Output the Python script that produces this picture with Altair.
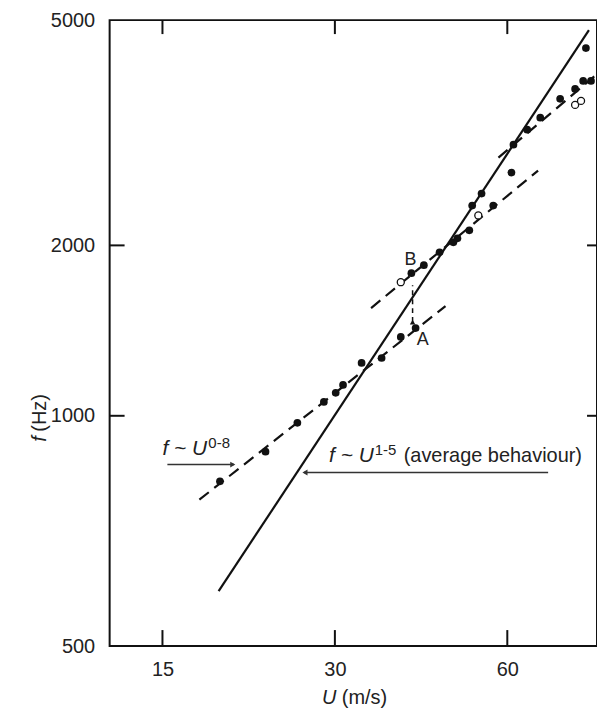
import altair as alt
import pandas as pd

FONT = "Liberation Sans"
INK = "#111111"

U_FILLED = [18.9, 22.7, 25.8, 28.7, 30.1, 31.0, 33.4, 36.2, 39.1, 41.5,
            40.8, 42.9, 45.7, 48.3, 49.1, 51.5, 52.1, 54.1, 56.7, 61.0,
            61.5, 65.0, 68.5, 74.2, 78.8, 81.4, 84.0, 82.3]
F_FILLED = [766, 864, 972, 1058, 1098, 1134, 1240, 1265, 1378, 1429,
            1786, 1845, 1945, 2025, 2058, 2126, 2352, 2469, 2352, 2689,
            3012, 3202, 3362, 3630, 3780, 3904, 3904, 4463]
U_OPEN = [39.1, 53.4, 78.8, 80.7]
F_OPEN = [1722, 2259, 3542, 3600]

# fitted lines (end points)
SOLID_U = [18.8, 83.3]
SOLID_F = [490, 4800]
DASH_NAMES = ["low", "low", "mid", "mid", "up", "up"]
DASH_U = [17.4, 46.8, 34.7, 67.9, 57.9, 85.3]
DASH_F = [711, 1562, 1550, 2711, 2858, 3984]

# A -> B jump
AB_U = [41.0, 41.0]
AB_F = [1464, 1701]

# annotation arrows
ARROW_NAMES = ["a1", "a1", "a2", "a2"]
ARROW_U = [15.3, 20.0, 70.7, 26.5]
ARROW_F = [820, 820, 794, 794]
HEAD_U = [19.9, 26.6]
HEAD_F = [820, 794]
HEAD_SHAPE = ["triangle-right", "triangle-left"]

# annotation texts
ITAL_TEXT = ["f ~ U", "f ~ U"]
ITAL_U = [15.0, 29.3]
ITAL_F = [854, 827]
SUP_TEXT = ["0-8", "1-5"]
SUP_U = [18.04, 35.2]
SUP_F = [878, 854]
NORM_TEXT = ["(average behaviour)"]
NORM_U = [39.56]
NORM_F = [827]
LET_TEXT = ["B", "A"]
LET_U = [39.7, 41.7]
LET_F = [1845, 1334]

X_TICKS = [15, 30, 60]
Y_TICKS = [392, 1000, 2000, 5000]
X_DOMAIN = [12.13, 86.05]
Y_DOMAIN = [392, 5000]

W, H = 489, 628

xs = alt.Scale(type="log", domain=X_DOMAIN, nice=False)
ys = alt.Scale(type="log", domain=Y_DOMAIN, nice=False)

x_axis = alt.Axis(values=X_TICKS, title=None, grid=False, domain=False, ticks=False,
                  labelFontSize=20, labelFont=FONT, labelColor="#222", labelPadding=14,
                  labelFlush=False, labelOverlap=False, labelExpr="format(datum.value,'d')")
y_axis = alt.Axis(values=Y_TICKS, title=None, grid=False, domain=False, ticks=False,
                  labelFontSize=20, labelFont=FONT, labelColor="#222", labelPadding=15,
                  labelFlush=False, labelOverlap=False,
                  labelExpr="datum.value < 450 ? '500' : format(datum.value,'d')")


def X():
    return alt.X("U:Q", scale=xs, axis=x_axis)


def Y():
    return alt.Y("f:Q", scale=ys, axis=y_axis)


filled = pd.DataFrame({"U": U_FILLED, "f": F_FILLED})
opened = pd.DataFrame({"U": U_OPEN, "f": F_OPEN})
solid = pd.DataFrame({"U": SOLID_U, "f": SOLID_F})
dashed = pd.DataFrame({"U": DASH_U, "f": DASH_F, "name": DASH_NAMES})
ab = pd.DataFrame({"U": AB_U, "f": AB_F})
arrows = pd.DataFrame({"U": ARROW_U, "f": ARROW_F, "name": ARROW_NAMES})
heads = pd.DataFrame({"U": HEAD_U, "f": HEAD_F, "shape": HEAD_SHAPE})
ital = pd.DataFrame({"U": ITAL_U, "f": ITAL_F, "t": ITAL_TEXT})
sup = pd.DataFrame({"U": SUP_U, "f": SUP_F, "t": SUP_TEXT})
norm = pd.DataFrame({"U": NORM_U, "f": NORM_F, "t": NORM_TEXT})
let = pd.DataFrame({"U": LET_U, "f": LET_F, "t": LET_TEXT})

solid_l = alt.Chart(solid).mark_line(color=INK, strokeWidth=2.2).encode(x=X(), y=Y())
dash_l = alt.Chart(dashed).mark_line(color=INK, strokeWidth=2.2, strokeDash=[12, 7]).encode(
    x=X(), y=Y(), detail="name:N")
ab_l = alt.Chart(ab).mark_line(color=INK, strokeWidth=1.5, strokeDash=[5, 4]).encode(x=X(), y=Y())
ab_head = alt.Chart(ab.iloc[[0]]).mark_point(shape="triangle-up", filled=True, color=INK,
                                            size=30, opacity=1).encode(x=X(), y=Y())
filled_p = alt.Chart(filled).mark_circle(color=INK, size=60, opacity=1).encode(x=X(), y=Y())
open_p = alt.Chart(opened).mark_point(shape="circle", color=INK, fill="white", filled=False,
                                      strokeWidth=1.3, size=50, opacity=1).encode(x=X(), y=Y())
arrow_l = alt.Chart(arrows).mark_line(color="#333", strokeWidth=1.5).encode(
    x=X(), y=Y(), detail="name:N")
arrow_h = alt.Chart(heads).mark_point(filled=True, color="#333", size=35, opacity=1).encode(
    x=X(), y=Y(), shape=alt.Shape("shape:N", scale=None, legend=None))

ital_t = alt.Chart(ital).mark_text(font=FONT, fontSize=21, fontStyle="italic", align="left",
                                   baseline="alphabetic", color="#222").encode(x=X(), y=Y(), text="t:N")
sup_t = alt.Chart(sup).mark_text(font=FONT, fontSize=15, align="left",
                                 baseline="alphabetic", color="#222").encode(x=X(), y=Y(), text="t:N")
norm_t = alt.Chart(norm).mark_text(font=FONT, fontSize=20, align="left",
                                   baseline="alphabetic", color="#222").encode(x=X(), y=Y(), text="t:N")
let_t = alt.Chart(let).mark_text(font=FONT, fontSize=18, align="left",
                                 baseline="alphabetic", color="#222").encode(x=X(), y=Y(), text="t:N")

# inward tick marks
xt = pd.DataFrame({"U": X_TICKS})
yt = pd.DataFrame({"f": [1000, 2000]})
tick_b = alt.Chart(xt).mark_rule(color=INK, strokeWidth=2).encode(
    x=X(), y=alt.value(H), y2=alt.value(H - 16))
tick_t = alt.Chart(xt).mark_rule(color=INK, strokeWidth=2).encode(
    x=X(), y=alt.value(0), y2=alt.value(14))
tick_l = alt.Chart(yt).mark_rule(color=INK, strokeWidth=2).encode(
    y=Y(), x=alt.value(0), x2=alt.value(15))
tick_r = alt.Chart(yt).mark_rule(color=INK, strokeWidth=2).encode(
    y=Y(), x=alt.value(W), x2=alt.value(W - 10))

# axis titles (italic symbol + plain unit)
one = pd.DataFrame({"k": [0]})
xt_sym = alt.Chart(one).mark_text(text="U", font=FONT, fontSize=20, fontStyle="italic",
                                  align="left", baseline="alphabetic", color="#222").encode(
    x=alt.value(213), y=alt.value(686))
xt_unit = alt.Chart(one).mark_text(text="(m/s)", font=FONT, fontSize=20,
                                   align="left", baseline="alphabetic", color="#222").encode(
    x=alt.value(233), y=alt.value(686))
yt_sym = alt.Chart(one).mark_text(text="f", font=FONT, fontSize=20, fontStyle="italic", angle=270,
                                  align="left", baseline="middle", color="#222").encode(
    x=alt.value(-70), y=alt.value(423))
yt_unit = alt.Chart(one).mark_text(text="(Hz)", font=FONT, fontSize=20, angle=270,
                                   align="left", baseline="middle", color="#222").encode(
    x=alt.value(-70), y=alt.value(413))

chart = alt.layer(
    solid_l, dash_l, ab_l, ab_head, arrow_l, arrow_h, filled_p, open_p,
    ital_t, sup_t, norm_t, let_t,
    tick_b, tick_t, tick_l, tick_r,
    xt_sym, xt_unit, yt_sym, yt_unit,
).properties(
    width=W, height=H,
    autosize=alt.AutoSizeParams(type="none"),
    padding={"left": 110, "top": 19, "right": 0, "bottom": 63},
).configure(
    background="white",
    view=alt.ViewConfig(stroke=INK, strokeWidth=2),
)

chart.save("out.html", embed_options={"renderer": "svg", "actions": False})
